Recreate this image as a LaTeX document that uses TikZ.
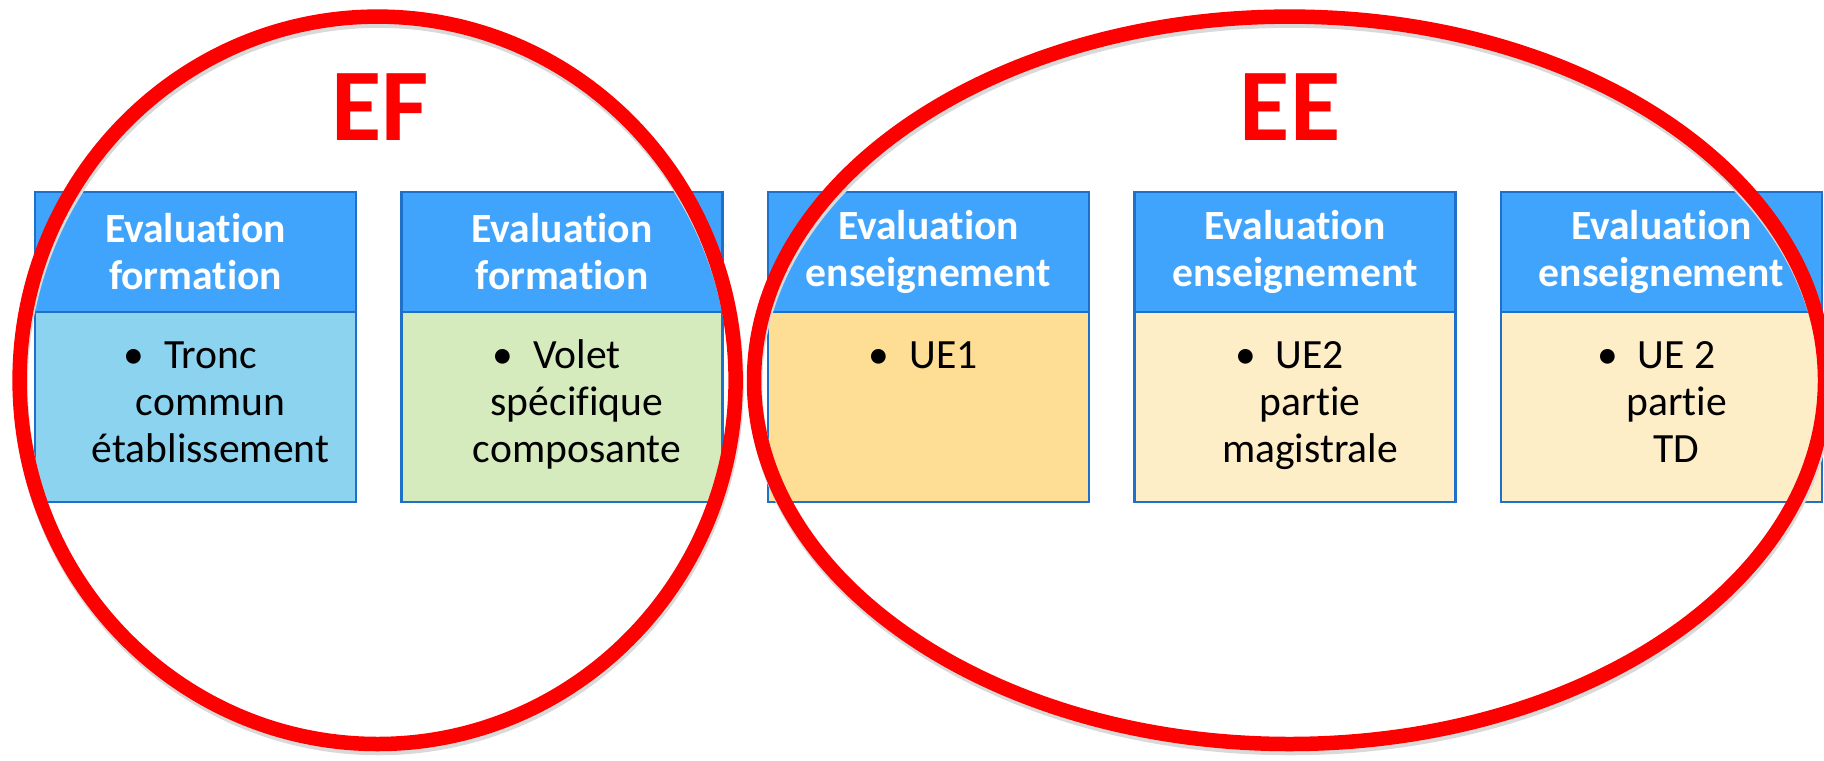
\documentclass[tikz,border=0pt]{standalone}
\usepackage{fontspec}
\setmainfont{Carlito}[Ligatures=NoCommon]

\definecolor{hdrblue}{RGB}{65,164,252}
\definecolor{edgeblue}{RGB}{30,112,200}
\definecolor{skyfill}{RGB}{140,211,239}
\definecolor{greenfill}{RGB}{213,234,189}
\definecolor{goldfill}{RGB}{254,222,148}
\definecolor{creamfill}{RGB}{254,238,200}

\newcommand{\ptitem}[1]{\llap{\textbullet\hspace{10pt}}\vphantom{l}#1}

\begin{document}
\begin{tikzpicture}[x=0.5pt, y=-0.5pt,
	headbox/.style = {draw=edgeblue, line width=1.2pt, fill=hdrblue, minimum width=160.5pt, minimum height=60pt, inner sep=0pt, text=white, align=center, font=\fontsize{20.8}{23.5}\selectfont\bfseries},
	bodybox/.style = {draw=edgeblue, line width=1.2pt, minimum width=160.5pt, minimum height=95pt, inner sep=0pt},
	bodytext/.style = {anchor=north, align=center, inner sep=0pt, font=\fontsize{20.8}{23.5}\selectfont},
	ring/.style = {draw=red, line width=7.25pt},
	ringshadow/.style = {draw=black!15, line width=7.25pt},
	setlabel/.style = {anchor=base, inner sep=0pt, text=red, font=\fontsize{51.5}{60}\selectfont\bfseries}]
	
	\useasboundingbox (0,0) rectangle (1824,760);
	
	\node[bodybox, fill=skyfill] (b1) at (195.5,407) {};
	\node[bodybox, fill=greenfill] (b2) at (562,407) {};
	\node[bodybox, fill=goldfill] (b3) at (928.5,407) {};
	\node[bodybox, fill=creamfill] (b4) at (1295,407) {};
	\node[bodybox, fill=creamfill] (b5) at (1661.5,407) {};
	
	\node[headbox] (h1) at (195.5,252) {Evaluation\\formation};
	\node[headbox] (h2) at (562,252) {Evaluation\\formation};
	\node[headbox] (h3) at (928.5,252) {Evaluation\\enseignement};
	\node[headbox] (h4) at (1295,252) {Evaluation\\enseignement};
	\node[headbox] (h5) at (1661.5,252) {Evaluation\\enseignement};
	
	\node[bodytext] (t1) at (210.5,339) {\ptitem{Tronc}\\commun\\établissement};
	\node[bodytext] (t2) at (577,339) {\ptitem{Volet}\\spécifique\\composante};
	\node[bodytext] (t3) at (943.5,339) {\ptitem{UE1}};
	\node[bodytext] (t4) at (1310,339) {\ptitem{UE2}\\partie\\magistrale};
	\node[bodytext] (t5) at (1676.5,339) {\ptitem{UE 2}\\partie\\TD};
	
	% the two groups
	\draw[ringshadow, shift={(1,4)}] (377.6,380.3) ellipse [x radius=179pt, y radius=181.85pt];
	\draw[ringshadow, shift={(1,4)}] (1289.5,380.3) ellipse [x radius=267.75pt, y radius=181.85pt];
	\draw[ring] (377.6,380.3) ellipse [x radius=179pt, y radius=181.85pt];
	\draw[ring] (1289.5,380.3) ellipse [x radius=267.75pt, y radius=181.85pt];
	
	\node[setlabel] (ef) at (380,140) {EF};
	\node[setlabel] (ee) at (1290,140) {EE};
	
\end{tikzpicture}
\end{document}
